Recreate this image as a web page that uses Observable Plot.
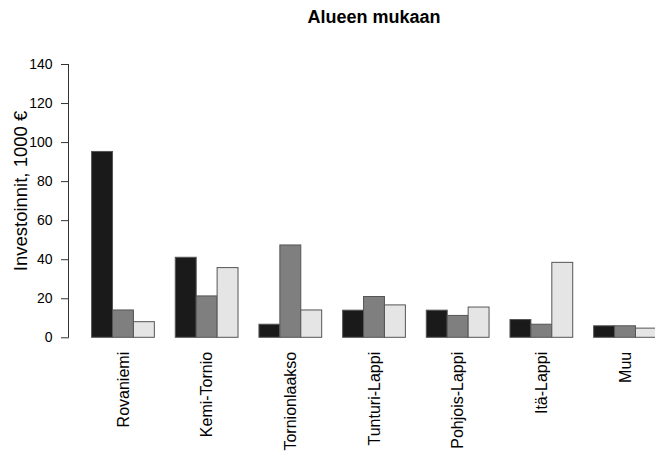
<!DOCTYPE html>
<html><head><meta charset="utf-8">
<script src="https://cdn.jsdelivr.net/npm/d3@7"></script>
<script src="https://cdn.jsdelivr.net/npm/@observablehq/plot@0.6"></script>
<style>
html,body{margin:0;padding:0;overflow:hidden;background:#fff;width:655px;height:457px}
#title{position:absolute;left:69px;width:610px;top:8px;text-align:center;font:bold 18px/18px "Liberation Sans",Arial,sans-serif;color:#000}
#chart{position:absolute;left:0;top:0}
</style></head><body>
<div id="chart"></div><div id="title">Alueen mukaan</div>
<script>
const regions = ["Rovaniemi","Kemi-Tornio","Tornionlaakso","Tunturi-Lappi","Pohjois-Lappi","Itä-Lappi","Muu"];
const seriesNames = ["Sarja 1","Sarja 2","Sarja 3"];
const series1 = [95.2, 41.0, 6.7, 13.9, 13.9, 9.1, 5.9];
const series2 = [14.0, 21.2, 47.3, 20.9, 11.2, 6.7, 5.9];
const series3 = [8.0, 35.7, 14.0, 16.6, 15.5, 38.4, 4.7];
const yTicks = [0, 20, 40, 60, 80, 100, 120, 140];
const yLabel = "Investoinnit, 1000 €";
const colors = ["#1a1a1a", "#7f7f7f", "#e5e5e5"];

const data = [];
[series1, series2, series3].forEach((vals, s) =>
  vals.forEach((v, i) => data.push({region: regions[i], series: seriesNames[s], value: v})));

const font = '"Liberation Sans", Arial, sans-serif';
const plot = Plot.plot({
  width: 679, height: 457,
  marginLeft: 69, marginRight: 0, marginTop: 64, marginBottom: 119.7,
  style: {maxWidth: "none", background: "white", fontFamily: font, color: "#000", overflow: "visible"},
  fx: {domain: regions, paddingInner: 0.25, paddingOuter: 0.27, round: false, label: null, axis: null},
  x: {domain: seriesNames, padding: 0, round: false, axis: null},
  y: {domain: [0, 140], axis: null},
  color: {domain: seriesNames, range: colors},
  marks: [
    Plot.barY(data, {fx: "region", x: "series", y: "value", fill: "series", stroke: "#555", strokeWidth: 1}),
    Plot.axisY({ticks: yTicks, tickSize: 8, tickPadding: 9, dx: -22.6, fontSize: 14, label: null, stroke: "#333", color: "#000"}),
    Plot.axisFx({anchor: "bottom", tickRotate: -90, tickSize: 0, tickPadding: 14, fontSize: 16, label: null, color: "#000"})
  ]
});
document.getElementById("chart").appendChild(plot);

const y = plot.scale("y");
const svg = d3.select(plot);
svg.append("line")
  .attr("x1", 68.5).attr("x2", 68.5)
  .attr("y1", y.apply(yTicks[0])).attr("y2", y.apply(yTicks[yTicks.length - 1]))
  .attr("stroke", "#333");
svg.append("text")
  .attr("transform", "translate(27,191) rotate(-90)")
  .attr("text-anchor", "middle")
  .attr("font-size", 18.5)
  .attr("font-family", font)
  .attr("fill", "#000")
  .text(yLabel);
</script>
</body></html>
